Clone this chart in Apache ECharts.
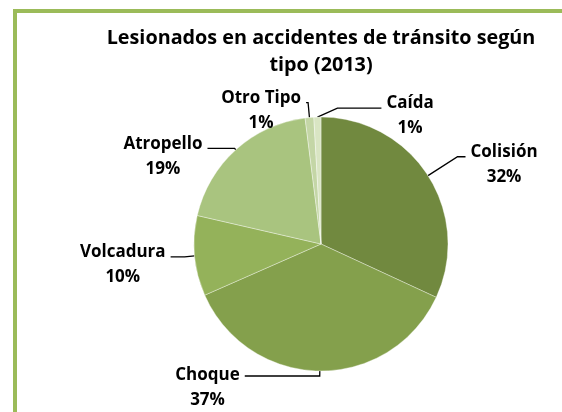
<!DOCTYPE html>
<html>
<head>
<meta charset="utf-8">
<script src="https://cdn.jsdelivr.net/npm/echarts@6/dist/echarts.min.js"></script>
<style>
  html, body { margin: 0; padding: 0; background: #fff; overflow: hidden; }
  #main { width: 562px; height: 412px; }
</style>
</head>
<body>
<div id="main"></div>
<script>
// categorías y valores (% de lesionados por tipo de accidente)
var categorias = ['Colisión', 'Choque', 'Volcadura', 'Atropello', 'Otro Tipo', 'Caída'];
var valores = [31.9, 36.5, 10.2, 19.4, 1.1, 0.9];

// tonos de verde de cada sector
var colores = ['#71893F', '#84A04C', '#94B25A', '#A9C47F', '#C4D6A6', '#D9E5C3'];
// largo de las guías [length, length2]
var guias = [[35, 8], [5, 75], [10, 14], [2, 27], [15, 2], [6, 6]];

var chart = echarts.init(document.getElementById('main'));

var datos = categorias.map(function (c, i) {
  var d = {
    name: c,
    value: valores[i],
    itemStyle: { color: colores[i] },
    labelLine: { length: guias[i][0], length2: guias[i][1] }
  };
  // en "Choque" la guía llega al centro del texto
  if (i === 1) d.label = { padding: [24, 0, 0, 0] };
  return d;
});

var fuente = { fontFamily: 'Open Sans', fontWeight: 'bold', color: '#000' };

var option = {
  animation: false,
  title: {
    text: 'Lesionados en accidentes de tránsito según\ntipo (2013)',
    left: 316,
    top: 20,
    textAlign: 'center',
    textStyle: Object.assign({ fontSize: 19.8, lineHeight: 27 }, fuente)
  },
  graphic: [{
    type: 'rect',
    silent: true,
    shape: { x: 15, y: 11, width: 600, height: 450 },
    style: { fill: 'none', stroke: '#9BBB59', lineWidth: 4 }
  }],
  series: [{
    type: 'pie',
    center: [321, 244],
    radius: 127,
    startAngle: 90,
    clockwise: true,
    avoidLabelOverlap: false,
    data: datos,
    itemStyle: { borderColor: 'rgba(255,255,255,0.6)', borderWidth: 0.6 },
    label: {
      show: true,
      position: 'outside',
      distanceToLabelLine: 5,
      padding: [16, 0, 0, 0],
      formatter: function (p) {
        return '{n|' + p.name + '}\n{n|' + Math.round(p.percent) + '%}';
      },
      rich: {
        n: Object.assign({ fontSize: 17, lineHeight: 25, align: 'center' }, fuente)
      }
    },
    labelLine: { show: true, smooth: false, lineStyle: { color: '#000', width: 1.3 } },
    // la etiqueta de "Caída" va a la derecha, como en el original
    labelLayout: function (p) {
      if (p.dataIndex !== 5) return;
      var e = p.labelLinePoints[0];
      return {
        x: e[0] + 69,
        y: e[1] - 9,
        align: 'left',
        labelLinePoints: [e, [e[0] + 20, e[1] - 9], [e[0] + 64, e[1] - 9]]
      };
    },
    emphasis: { disabled: true }
  }]
};

chart.setOption(option);
</script>
</body>
</html>
